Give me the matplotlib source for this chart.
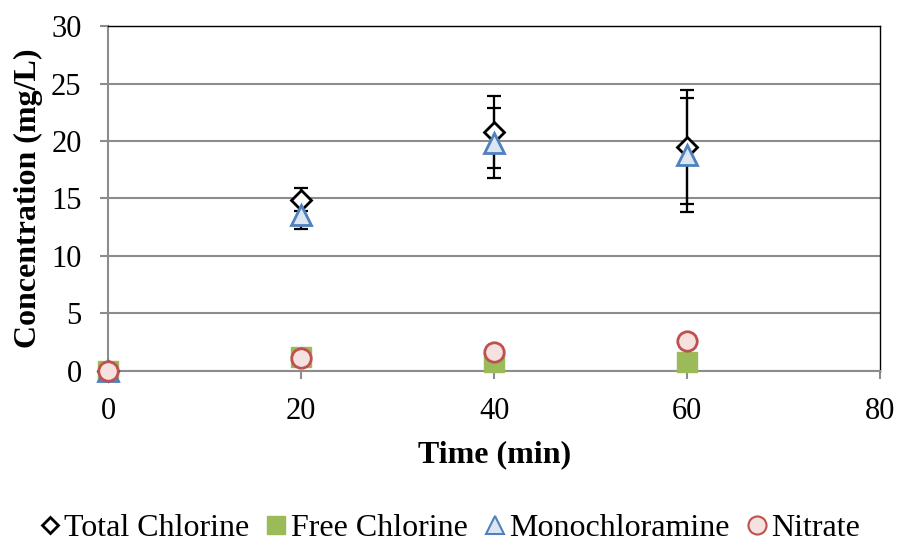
import matplotlib
matplotlib.use("Agg")
import matplotlib.pyplot as plt
from matplotlib.lines import Line2D

plt.rcParams['font.family'] = ['Liberation Serif', 'DejaVu Serif']

time = [0, 20, 40, 60]
total_cl = [0.0, 14.9, 20.8, 19.5]
total_cl_err = [0.0, 1.0, 3.15, 4.95]
free_cl = [0.0, 1.2, 0.8, 0.8]
mono = [0.0, 13.6, 19.8, 18.8]
mono_err = [0.0, 1.25, 3.05, 4.95]
nitrate = [0.0, 1.1, 1.6, 2.6]

fig = plt.figure(figsize=(9, 5.43), dpi=100)
ax = fig.add_axes([0.12, 0.317, 0.858, 0.635])

grid_c = '#8c8c8c'
ax.set_xlim(0, 80)
ax.set_ylim(0, 30)
ax.set_xticks([0, 20, 40, 60, 80])
ax.set_yticks([0, 5, 10, 15, 20, 25, 30])
ax.yaxis.grid(True, color=grid_c, linewidth=1.5, zorder=0)
ax.set_axisbelow(True)
for side in ('left', 'bottom'):
    ax.spines[side].set_color(grid_c)
    ax.spines[side].set_linewidth(1.5)
for side in ('top', 'right'):
    ax.spines[side].set_color('black')
    ax.spines[side].set_linewidth(1.0)
ax.tick_params(axis='both', direction='out', length=6, width=1.5,
               color=grid_c, labelsize=22)
ax.tick_params(axis='x', pad=13)
ax.tick_params(axis='y', pad=13)

ms = 14
# Total chlorine
ax.errorbar(time, total_cl, yerr=total_cl_err, fmt='none', ecolor='black',
            elinewidth=1.6, capsize=5, capthick=1.6, zorder=3)
ax.plot(time, total_cl, linestyle='none', marker='D', markersize=10,
        markerfacecolor='white', markeredgecolor='black', markeredgewidth=2,
        zorder=4, clip_on=False)
# Free chlorine
ax.plot(time, free_cl, linestyle='none', marker='s', markersize=ms,
        markerfacecolor='#9BBB59', markeredgecolor='#9BBB59',
        markeredgewidth=1, zorder=5, clip_on=False)
# Monochloramine
ax.errorbar(time, mono, yerr=mono_err, fmt='none', ecolor='black',
            elinewidth=1.6, capsize=5, capthick=1.6, zorder=3)
ax.plot(time, mono, linestyle='none', marker='^', markersize=ms,
        markerfacecolor='#dce6f2', markeredgecolor='#4F81BD',
        markeredgewidth=2, zorder=6, clip_on=False)
# Nitrate
ax.plot(time, nitrate, linestyle='none', marker='o', markersize=ms,
        markerfacecolor='#f5e1e0', markeredgecolor='#C0504D',
        markeredgewidth=2, zorder=7, clip_on=False)

ax.set_xlabel('Time (min)', fontsize=23, fontweight='bold', labelpad=10)
ax.set_ylabel('Concentration (mg/L)', fontsize=23, fontweight='bold', labelpad=6)

handles = [
    Line2D([], [], linestyle='none', marker='D', markersize=8,
           markerfacecolor='white', markeredgecolor='black', markeredgewidth=2),
    Line2D([], [], linestyle='none', marker='s', markersize=13,
           markerfacecolor='#9BBB59', markeredgecolor='#9BBB59'),
    Line2D([], [], linestyle='none', marker='^', markersize=13,
           markerfacecolor='#dce6f2', markeredgecolor='#4F81BD', markeredgewidth=1.5),
    Line2D([], [], linestyle='none', marker='o', markersize=13,
           markerfacecolor='#f5e1e0', markeredgecolor='#C0504D', markeredgewidth=1.5),
]
labels = ['Total Chlorine', 'Free Chlorine', 'Monochloramine', 'Nitrate']
fig.legend(handles, labels, loc='center', bbox_to_anchor=(0.5, 0.027), ncol=4,
           frameon=False, fontsize=23, handlelength=0.6, handletextpad=0.15,
           columnspacing=0.55, borderaxespad=0)

fig.savefig('out.png', dpi=100)
